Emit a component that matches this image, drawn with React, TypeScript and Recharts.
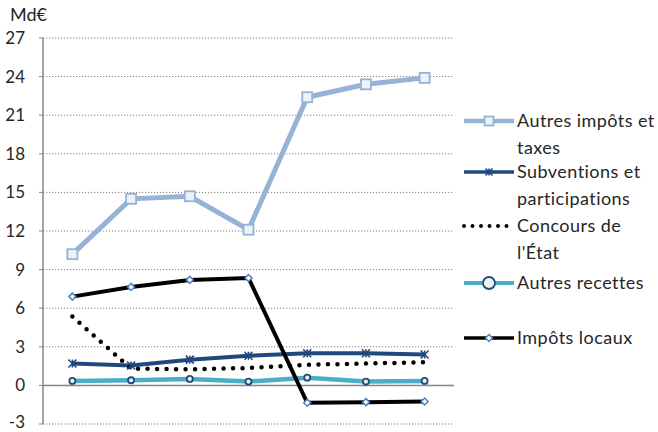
import React from "react"
import { LineChart, Line, XAxis, YAxis, CartesianGrid, ReferenceLine } from "recharts"

// values (Md€)
const years = [2017, 2018, 2019, 2020, 2021, 2022, 2023]
const autresImpots = [10.2, 14.5, 14.7, 12.1, 22.4, 23.4, 23.9]
const subventions = [1.7, 1.55, 2.0, 2.3, 2.5, 2.5, 2.4]
const concours = [5.35, 1.3, 1.25, 1.35, 1.6, 1.7, 1.8]
const autresRecettes = [0.35, 0.4, 0.5, 0.3, 0.6, 0.3, 0.35]
const impotsLocaux = [6.9, 7.65, 8.2, 8.35, -1.35, -1.3, -1.25]
const yTicks = [-3, 0, 3, 6, 9, 12, 15, 18, 21, 24, 27]

const data = years.map((year, i) => ({
  year,
  autresImpots: autresImpots[i],
  subventions: subventions[i],
  concours: concours[i],
  autresRecettes: autresRecettes[i],
  impotsLocaux: impotsLocaux[i],
}))

const FONT = "Lato, 'Open Sans', sans-serif"
const TEXT = "#262626"
const AXIS_GRAY = "#868686"
const W = 658
const H = 432
const M = { top: 38, right: 204, bottom: 8, left: 0 }
const Y_AXIS_W = 43
const PLOT_TOP = M.top
const PLOT_BOTTOM = H - M.bottom
const PLOT_LEFT = Y_AXIS_W
const PLOT_RIGHT = W - M.right
const ZERO_Y = PLOT_TOP + ((27 - 0) / 30) * (PLOT_BOTTOM - PLOT_TOP)
const HALF_BAND = (PLOT_RIGHT - PLOT_LEFT) / years.length / 2

const Square = ({ cx, cy, size = 10 }: any) =>
  cx == null ? null : (
    <rect x={cx - size / 2} y={cy - size / 2} width={size} height={size} fill="#EEF1F6" stroke="#95B3D7" strokeWidth={1.8} />
  )

const Star = ({ cx, cy, size = 8, color = "#1F497D" }: any) => {
  if (cx == null) return null
  const h = size / 2
  return (
    <g stroke={color} strokeWidth={1.6}>
      <line x1={cx - h} y1={cy - h} x2={cx + h} y2={cy + h} />
      <line x1={cx - h} y1={cy + h} x2={cx + h} y2={cy - h} />
      <line x1={cx} y1={cy - h} x2={cx} y2={cy + h} />
    </g>
  )
}

const Circle = ({ cx, cy, r = 7 }: any) =>
  cx == null ? null : <circle cx={cx} cy={cy} r={r} fill="#EFEFEF" stroke="#1F4E79" strokeWidth={1.8} />

const Diamond = ({ cx, cy, size = 7 }: any) => {
  if (cx == null) return null
  const h = size / 2
  return (
    <path
      d={`M${cx},${cy - h}L${cx + h},${cy}L${cx},${cy + h}L${cx - h},${cy}Z`}
      fill="#FFFFFF"
      stroke="#4F81BD"
      strokeWidth={1.5}
    />
  )
}

const series = [
  { key: "autresImpots", name: ["Autres impôts et", "taxes"], color: "#95B3D7", width: 5, dash: undefined, Marker: Square },
  { key: "subventions", name: ["Subventions et", "participations"], color: "#1F497D", width: 4, dash: undefined, Marker: Star },
  { key: "concours", name: ["Concours de", "l'État"], color: "#000000", width: 4.5, dash: "0 9.5", Marker: null },
  { key: "autresRecettes", name: ["Autres recettes"], color: "#4BACC6", width: 4.5, dash: undefined, Marker: Circle },
  { key: "impotsLocaux", name: ["Impôts locaux"], color: "#000000", width: 4, dash: undefined, Marker: Diamond },
]
const legendRowHeights = [51, 54, 57, 55, 30]

const YearTick = ({ x, payload, index }: any) => (
  <g>
    <line x1={x - HALF_BAND} y1={ZERO_Y} x2={x - HALF_BAND} y2={ZERO_Y + 5} stroke={AXIS_GRAY} strokeWidth={1.2} />
    {index === years.length - 1 && (
      <line x1={x + HALF_BAND} y1={ZERO_Y} x2={x + HALF_BAND} y2={ZERO_Y + 5} stroke={AXIS_GRAY} strokeWidth={1.2} />
    )}
    <text x={x} y={ZERO_Y + 31} textAnchor="middle" fontSize={17} fill={TEXT} fontFamily={FONT}>
      {payload.value}
    </text>
  </g>
)

const ValueTick = ({ x, y, payload }: any) => (
  <text
    x={x}
    y={y + (payload.value === -3 ? 4 : 6)}
    textAnchor="end"
    fontSize={17}
    fill={TEXT}
    fontFamily={FONT}
  >
    {payload.value}
  </text>
)

function LegendBox() {
  return (
    <div
      style={{
        position: "absolute",
        left: 462,
        top: 108,
        fontFamily: FONT,
        fontSize: 18,
        letterSpacing: 0.45,
        color: TEXT,
      }}
    >
      {series.map((s, i) => (
        <div key={s.key} style={{ height: legendRowHeights[i], display: "flex", alignItems: "flex-start" }}>
          <svg width={54} height={26} style={{ flex: "none" }}>
            <line
              x1={2}
              y1={13}
              x2={52}
              y2={13}
              stroke={s.color}
              strokeWidth={s.dash ? 4 : s.width - 0.5}
              strokeDasharray={s.dash ? "0 8.5" : undefined}
              strokeLinecap={s.dash ? "round" : "butt"}
            />
            {s.Marker && <s.Marker cx={27} cy={13} size={s.key === "autresImpots" ? 9 : 7} r={6} />}
          </svg>
          <div style={{ lineHeight: "27px", whiteSpace: "nowrap", marginLeft: 1, marginTop: -1 }}>
            {s.name.map((n) => (
              <div key={n}>{n}</div>
            ))}
          </div>
        </div>
      ))}
    </div>
  )
}

export default function App() {
  return (
    <div style={{ position: "absolute", left: 0, top: 0, width: W, height: H, background: "#fff" }}>
      <div style={{ position: "absolute", left: 10, top: 3, fontFamily: FONT, fontSize: 18, color: TEXT }}>Md€</div>
      <LineChart width={W} height={H} data={data} margin={M}>
        <CartesianGrid vertical={false} stroke="#7F7F7F" strokeDasharray="1.2 1.8" />
        <XAxis
          dataKey="year"
          type="number"
          domain={[2016.5, 2023.5]}
          ticks={years}
          height={0}
          axisLine={false}
          tickLine={false}
          interval={0}
          tick={<YearTick />}
        />
        <YAxis
          width={Y_AXIS_W}
          domain={[-3, 27]}
          ticks={yTicks}
          interval={0}
          axisLine={{ stroke: AXIS_GRAY, strokeWidth: 1.5 }}
          tickLine={{ stroke: AXIS_GRAY }}
          tickSize={4}
          tickMargin={14}
          tick={<ValueTick />}
        />
        <ReferenceLine y={0} stroke={AXIS_GRAY} strokeWidth={1.5} />
        {series.map((s) => (
          <Line
            key={s.key}
            dataKey={s.key}
            type="linear"
            stroke={s.color}
            strokeWidth={s.width}
            strokeDasharray={s.dash}
            strokeLinecap={s.dash ? "round" : "butt"}
            dot={s.Marker ? <s.Marker /> : false}
            activeDot={false}
            isAnimationActive={false}
          />
        ))}
      </LineChart>
      <LegendBox />
    </div>
  )
}
